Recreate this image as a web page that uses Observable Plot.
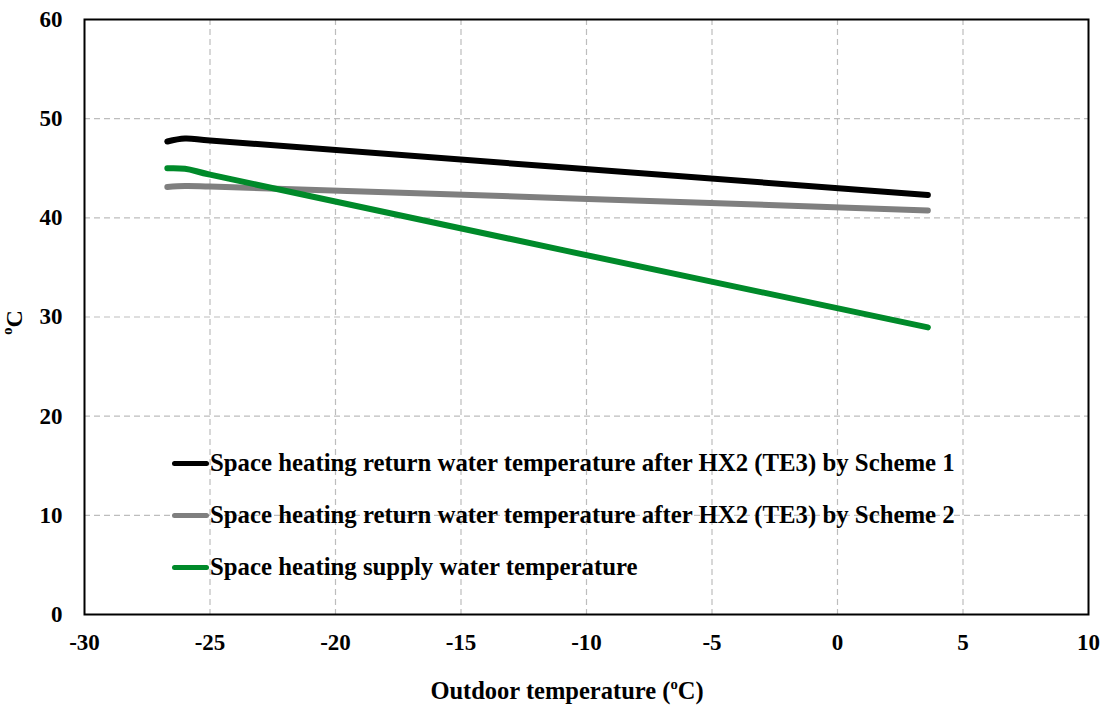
<!DOCTYPE html>
<html>
<head>
<meta charset="utf-8">
<script src="https://cdn.jsdelivr.net/npm/d3@7"></script>
<script src="https://cdn.jsdelivr.net/npm/@observablehq/plot@0.6"></script>
<style>
  html, body { margin: 0; padding: 0; background: #fff; }
  #chart { position: relative; width: 1107px; height: 709px; font-family: "Liberation Serif", "Times New Roman", serif; font-weight: bold; color: #000; }
  .ylab { position: absolute; left: 2px; top: 309px; font-size: 24px; transform: rotate(-90deg); transform-origin: center; }
  .xlab { position: absolute; left: 0; width: 1134px; top: 677px; text-align: center; font-size: 24.5px; }
  sup { font-size: 0.6em; vertical-align: 0.7em; line-height: 0; }
  .legend { position: absolute; left: 172px; top: 437px; font-size: 24.8px; }
  .legend .row { height: 52px; line-height: 52px; display: flex; align-items: center; }
  .legend .sw { width: 37px; height: 5px; border-radius: 3px; margin-right: 1px; }
</style>
</head>
<body>
<div id="chart"></div>
<script>
// Outdoor temperature (°C) at each computed point
const outdoorTemp = [-26.7, -26.0, -25.0, 3.6];

// Water temperatures (°C)
const returnScheme1 = [47.7, 48.0, 47.8, 42.3];
const returnScheme2 = [43.1, 43.2, 43.15, 40.75];
const supplyTemp = [45.0, 44.95, 44.35, 28.95];

const seriesNames = [
  "Space heating return water temperature after HX2 (TE3) by Scheme 1",
  "Space heating return water temperature after HX2 (TE3) by Scheme 2",
  "Space heating supply water temperature"
];
const seriesColors = ["#000000", "#7f7f7f", "#008a2a"];

const xTicks = [-30, -25, -20, -15, -10, -5, 0, 5, 10];
const yTicks = [0, 10, 20, 30, 40, 50, 60];

const seriesValues = [returnScheme1, returnScheme2, supplyTemp];
const rows = seriesValues.flatMap((vals, i) =>
  vals.map((v, j) => ({series: seriesNames[i], x: outdoorTemp[j], y: v}))
);

const font = "'Liberation Serif', 'Times New Roman', serif";

const plot = Plot.plot({
  width: 1107,
  height: 709,
  marginLeft: 84,
  marginRight: 19,
  marginTop: 19,
  marginBottom: 95,
  style: {fontFamily: font, fontWeight: "bold", fontSize: "23px", color: "#000", background: "#fff"},
  x: {domain: [-30, 10]},
  y: {domain: [0, 60]},
  color: {domain: seriesNames, range: seriesColors},
  marks: [
    Plot.gridX(xTicks.slice(1, -1), {stroke: "#bdbdbd", strokeOpacity: 1, strokeDasharray: "6,4", strokeWidth: 1.2}),
    Plot.gridY(yTicks.slice(1, -1), {stroke: "#bdbdbd", strokeOpacity: 1, strokeDasharray: "6,4", strokeWidth: 1.2}),
    Plot.axisX(xTicks, {tickSize: 0, tickPadding: 19, label: null, fontSize: 23, fontWeight: "bold", tickFormat: d => String(d)}),
    Plot.axisY(yTicks, {tickSize: 0, tickPadding: 22, label: null, fontSize: 23, fontWeight: "bold", tickFormat: d => String(d)}),
    Plot.line(rows, {x: "x", y: "y", z: "series", stroke: "series", strokeWidth: 6, curve: "catmull-rom", strokeLinecap: "round", strokeLinejoin: "round"}),
    Plot.frame({stroke: "#000", strokeWidth: 2})
  ]
});

const chart = document.getElementById("chart");
chart.appendChild(plot);

// Axis titles with superscript degree marks
const yl = document.createElement("div");
yl.className = "ylab";
yl.innerHTML = "<sup>o</sup>C";
chart.appendChild(yl);

const xl = document.createElement("div");
xl.className = "xlab";
xl.innerHTML = "Outdoor temperature (<sup>o</sup>C)";
chart.appendChild(xl);

// Legend inside the plotting area
const lg = document.createElement("div");
lg.className = "legend";
seriesNames.forEach((name, i) => {
  const row = document.createElement("div");
  row.className = "row";
  const sw = document.createElement("div");
  sw.className = "sw";
  sw.style.background = seriesColors[i];
  const t = document.createElement("span");
  t.textContent = name;
  row.appendChild(sw);
  row.appendChild(t);
  lg.appendChild(row);
});
chart.appendChild(lg);
</script>
</body>
</html>
